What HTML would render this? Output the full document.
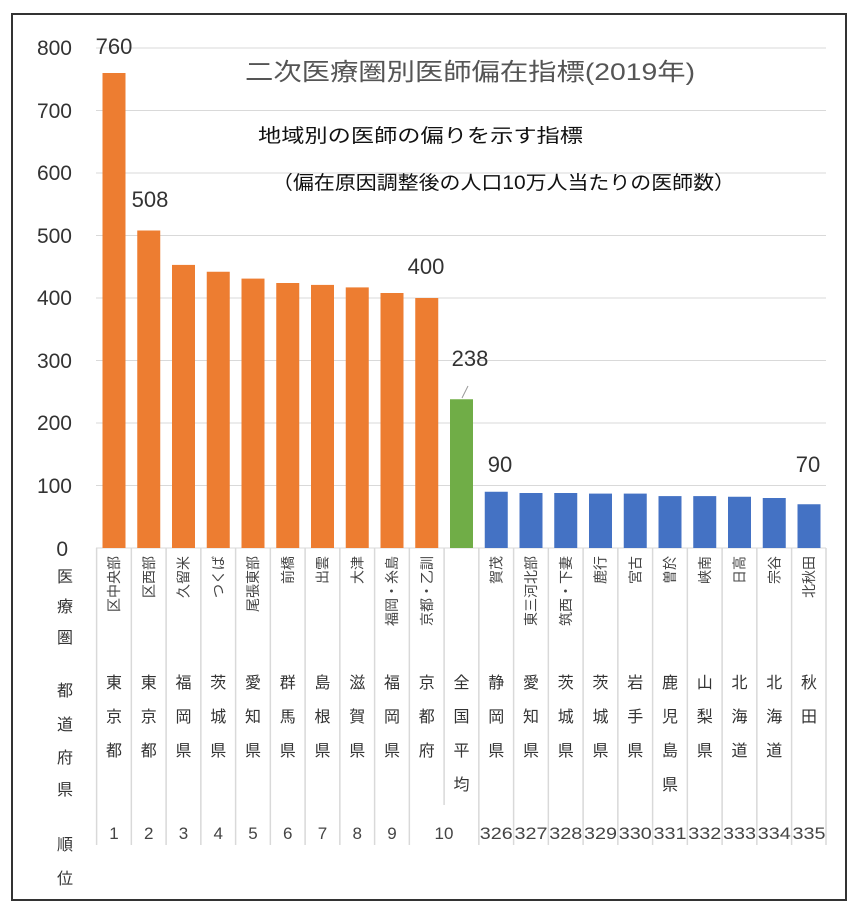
<!DOCTYPE html>
<html><head><meta charset="utf-8"><style>
html,body{margin:0;padding:0;background:#fff;}
svg{display:block;font-family:"Liberation Sans","Noto Sans CJK JP",sans-serif;}
</style></head><body>
<svg width="860" height="920" viewBox="0 0 860 920" xmlns="http://www.w3.org/2000/svg">
<rect x="12" y="14" width="834" height="886" fill="#fff" stroke="#333" stroke-width="2"/>
<g stroke="#d9d9d9" stroke-width="1">
<line x1="96" y1="48" x2="826" y2="48"/><line x1="96" y1="110.5" x2="826" y2="110.5"/>
<line x1="96" y1="173" x2="826" y2="173"/><line x1="96" y1="235.5" x2="826" y2="235.5"/>
<line x1="96" y1="298" x2="826" y2="298"/><line x1="96" y1="360.5" x2="826" y2="360.5"/>
<line x1="96" y1="423" x2="826" y2="423"/><line x1="96" y1="485.5" x2="826" y2="485.5"/>
<line x1="96" y1="548" x2="826" y2="548"/>
</g>
<g font-size="21" fill="#333" text-anchor="end">
<text x="72" y="55">800</text><text x="72" y="118">700</text><text x="72" y="180">600</text>
<text x="72" y="243">500</text><text x="72" y="305">400</text><text x="72" y="368">300</text>
<text x="72" y="430">200</text><text x="72" y="493">100</text><text x="68" y="556">0</text>
</g>
<text x="245" y="80" font-size="24" fill="#555" textLength="450" lengthAdjust="spacingAndGlyphs">二次医療圏別医師偏在指標(2019年)</text>
<text x="258" y="142" font-size="19" fill="#111" textLength="325" lengthAdjust="spacingAndGlyphs">地域別の医師の偏りを示す指標</text>
<text x="272" y="189" font-size="19" fill="#111" textLength="463" lengthAdjust="spacingAndGlyphs">（偏在原因調整後の人口10万人当たりの医師数）</text>
<g fill="#ED7D31">
<rect x="102.5" y="73" width="23" height="475"/>
<rect x="137.25" y="230.5" width="23" height="317.5"/>
<rect x="172" y="264.9" width="23" height="283.1"/>
<rect x="206.75" y="271.75" width="23" height="276.25"/>
<rect x="241.5" y="278.6" width="23" height="269.4"/>
<rect x="276.25" y="283" width="23" height="265"/>
<rect x="311" y="284.9" width="23" height="263.1"/>
<rect x="345.75" y="287.4" width="23" height="260.6"/>
<rect x="380.5" y="293" width="23" height="255"/>
<rect x="415.25" y="298" width="23" height="250"/>
</g>
<rect x="450" y="399.25" width="23" height="148.75" fill="#70AD47"/>
<g fill="#4472C4">
<rect x="484.75" y="491.75" width="23" height="56.25"/>
<rect x="519.5" y="493" width="23" height="55"/>
<rect x="554.25" y="493" width="23" height="55"/>
<rect x="589" y="493.6" width="23" height="54.4"/>
<rect x="623.75" y="493.6" width="23" height="54.4"/>
<rect x="658.5" y="496.1" width="23" height="51.9"/>
<rect x="693.25" y="496.1" width="23" height="51.9"/>
<rect x="728" y="496.75" width="23" height="51.25"/>
<rect x="762.75" y="498" width="23" height="50"/>
<rect x="797.5" y="504.25" width="23" height="43.75"/>
</g>
<g stroke="#d9d9d9" stroke-width="1.5">
<line x1="96.6" y1="548" x2="96.6" y2="845"/><line x1="131.35" y1="548" x2="131.35" y2="845"/>
<line x1="166.1" y1="548" x2="166.1" y2="845"/><line x1="200.85" y1="548" x2="200.85" y2="845"/>
<line x1="235.6" y1="548" x2="235.6" y2="845"/><line x1="270.35" y1="548" x2="270.35" y2="845"/>
<line x1="305.1" y1="548" x2="305.1" y2="845"/><line x1="339.85" y1="548" x2="339.85" y2="845"/>
<line x1="374.6" y1="548" x2="374.6" y2="845"/><line x1="409.35" y1="548" x2="409.35" y2="845"/>
<line x1="444.1" y1="548" x2="444.1" y2="805"/><line x1="478.85" y1="548" x2="478.85" y2="845"/>
<line x1="513.6" y1="548" x2="513.6" y2="845"/><line x1="548.35" y1="548" x2="548.35" y2="845"/>
<line x1="583.1" y1="548" x2="583.1" y2="845"/><line x1="617.85" y1="548" x2="617.85" y2="845"/>
<line x1="652.6" y1="548" x2="652.6" y2="845"/><line x1="687.35" y1="548" x2="687.35" y2="845"/>
<line x1="722.1" y1="548" x2="722.1" y2="845"/><line x1="756.85" y1="548" x2="756.85" y2="845"/>
<line x1="791.6" y1="548" x2="791.6" y2="845"/><line x1="826" y1="548" x2="826" y2="845"/>
</g>
<g font-size="14" fill="#444" text-anchor="end" dominant-baseline="central">
<text x="114" y="556" transform="rotate(-90 114 556)">区中央部</text>
<text x="148.75" y="556" transform="rotate(-90 148.75 556)">区西部</text>
<text x="183.5" y="556" transform="rotate(-90 183.5 556)">久留米</text>
<text x="218.25" y="556" transform="rotate(-90 218.25 556)">つくば</text>
<text x="253" y="556" transform="rotate(-90 253 556)">尾張東部</text>
<text x="287.75" y="556" transform="rotate(-90 287.75 556)">前橋</text>
<text x="322.5" y="556" transform="rotate(-90 322.5 556)">出雲</text>
<text x="357.25" y="556" transform="rotate(-90 357.25 556)">大津</text>
<text x="392" y="556" transform="rotate(-90 392 556)">福岡・糸島</text>
<text x="426.75" y="556" transform="rotate(-90 426.75 556)">京都・乙訓</text>
<text x="496.25" y="556" transform="rotate(-90 496.25 556)">賀茂</text>
<text x="531" y="556" transform="rotate(-90 531 556)">東三河北部</text>
<text x="565.75" y="556" transform="rotate(-90 565.75 556)">筑西・下妻</text>
<text x="600.5" y="556" transform="rotate(-90 600.5 556)">鹿行</text>
<text x="635.25" y="556" transform="rotate(-90 635.25 556)">宮古</text>
<text x="670" y="556" transform="rotate(-90 670 556)">曽於</text>
<text x="704.75" y="556" transform="rotate(-90 704.75 556)">峡南</text>
<text x="739.5" y="556" transform="rotate(-90 739.5 556)">日高</text>
<text x="774.25" y="556" transform="rotate(-90 774.25 556)">宗谷</text>
<text x="809" y="556" transform="rotate(-90 809 556)">北秋田</text>
</g>
<g font-size="16" fill="#333" text-anchor="middle">
<text x="114" y="688">東</text><text x="114" y="722">京</text><text x="114" y="756">都</text>
<text x="148.75" y="688">東</text><text x="148.75" y="722">京</text><text x="148.75" y="756">都</text>
<text x="183.5" y="688">福</text><text x="183.5" y="722">岡</text><text x="183.5" y="756">県</text>
<text x="218.25" y="688">茨</text><text x="218.25" y="722">城</text><text x="218.25" y="756">県</text>
<text x="253" y="688">愛</text><text x="253" y="722">知</text><text x="253" y="756">県</text>
<text x="287.75" y="688">群</text><text x="287.75" y="722">馬</text><text x="287.75" y="756">県</text>
<text x="322.5" y="688">島</text><text x="322.5" y="722">根</text><text x="322.5" y="756">県</text>
<text x="357.25" y="688">滋</text><text x="357.25" y="722">賀</text><text x="357.25" y="756">県</text>
<text x="392" y="688">福</text><text x="392" y="722">岡</text><text x="392" y="756">県</text>
<text x="426.75" y="688">京</text><text x="426.75" y="722">都</text><text x="426.75" y="756">府</text>
<text x="461.5" y="688">全</text><text x="461.5" y="722">国</text><text x="461.5" y="756">平</text><text x="461.5" y="790">均</text>
<text x="496.25" y="688">静</text><text x="496.25" y="722">岡</text><text x="496.25" y="756">県</text>
<text x="531" y="688">愛</text><text x="531" y="722">知</text><text x="531" y="756">県</text>
<text x="565.75" y="688">茨</text><text x="565.75" y="722">城</text><text x="565.75" y="756">県</text>
<text x="600.5" y="688">茨</text><text x="600.5" y="722">城</text><text x="600.5" y="756">県</text>
<text x="635.25" y="688">岩</text><text x="635.25" y="722">手</text><text x="635.25" y="756">県</text>
<text x="670" y="688">鹿</text><text x="670" y="722">児</text><text x="670" y="756">島</text><text x="670" y="790">県</text>
<text x="704.75" y="688">山</text><text x="704.75" y="722">梨</text><text x="704.75" y="756">県</text>
<text x="739.5" y="688">北</text><text x="739.5" y="722">海</text><text x="739.5" y="756">道</text>
<text x="774.25" y="688">北</text><text x="774.25" y="722">海</text><text x="774.25" y="756">道</text>
<text x="809" y="688">秋</text><text x="809" y="722">田</text>
</g>
<g font-size="17" fill="#444" text-anchor="middle">
<text x="114" y="839">1</text><text x="148.75" y="839">2</text><text x="183.5" y="839">3</text>
<text x="218.25" y="839">4</text><text x="253" y="839">5</text><text x="287.75" y="839">6</text>
<text x="322.5" y="839">7</text><text x="357.25" y="839">8</text><text x="392" y="839">9</text>
<text x="444" y="839">10</text>
</g>
<g font-size="17" fill="#444" text-anchor="middle" textLength="33" lengthAdjust="spacingAndGlyphs">
<text x="496.25" y="839" textLength="33" lengthAdjust="spacingAndGlyphs">326</text>
<text x="531" y="839" textLength="33" lengthAdjust="spacingAndGlyphs">327</text>
<text x="565.75" y="839" textLength="33" lengthAdjust="spacingAndGlyphs">328</text>
<text x="600.5" y="839" textLength="33" lengthAdjust="spacingAndGlyphs">329</text>
<text x="635.25" y="839" textLength="33" lengthAdjust="spacingAndGlyphs">330</text>
<text x="670" y="839" textLength="33" lengthAdjust="spacingAndGlyphs">331</text>
<text x="704.75" y="839" textLength="33" lengthAdjust="spacingAndGlyphs">332</text>
<text x="739.5" y="839" textLength="33" lengthAdjust="spacingAndGlyphs">333</text>
<text x="774.25" y="839" textLength="33" lengthAdjust="spacingAndGlyphs">334</text>
<text x="809" y="839" textLength="33" lengthAdjust="spacingAndGlyphs">335</text>
</g>
<g font-size="22" fill="#333" text-anchor="middle">
<text x="114" y="54">760</text><text x="150" y="207">508</text><text x="426" y="274">400</text>
<text x="470" y="366">238</text><text x="500" y="472">90</text><text x="808" y="472">70</text>
</g>
<line x1="462" y1="398" x2="468" y2="386" stroke="#999" stroke-width="1"/>
<g font-size="16" fill="#333" text-anchor="middle">
<text x="65" y="582">医</text><text x="65" y="612">療</text><text x="65" y="643">圏</text>
<text x="65" y="696">都</text><text x="65" y="730">道</text><text x="65" y="763">府</text><text x="65" y="795">県</text>
<text x="65" y="850">順</text><text x="65" y="884">位</text>
</g>
</svg>
</body></html>
